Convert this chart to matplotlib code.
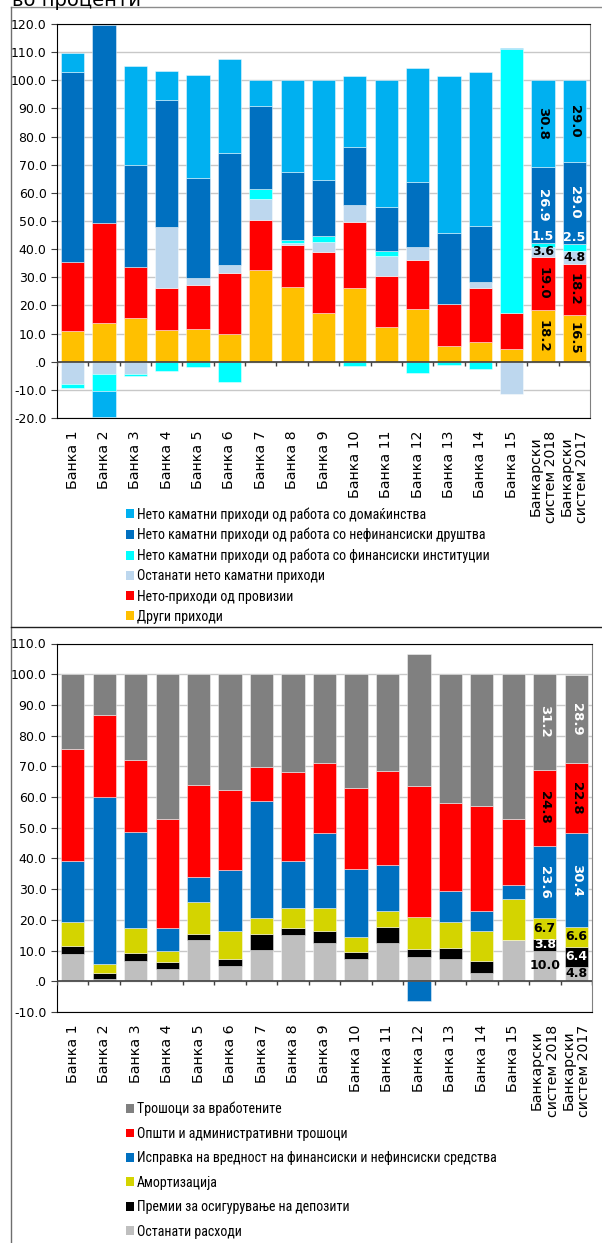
import matplotlib
matplotlib.use("Agg")
import matplotlib.pyplot as plt
from matplotlib import font_manager
from matplotlib.lines import Line2D
from matplotlib.patches import Patch
import numpy as np

W, H = 602, 1243

banks = ["Банка 1", "Банка 2", "Банка 3", "Банка 4", "Банка 5", "Банка 6", "Банка 7",
         "Банка 8", "Банка 9", "Банка 10", "Банка 11", "Банка 12", "Банка 13", "Банка 14",
         "Банка 15", "Банкарски\nсистем 2018", "Банкарски\nсистем 2017"]

# --- top chart: structure of income (stack order bottom -> top) ---
other_income = [11.0, 13.7, 15.4, 11.3, 11.6, 9.9, 32.6, 26.5, 17.2, 26.1, 12.5, 18.9, 5.7, 6.9, 4.5, 18.2, 16.5]
commission = [24.6, 35.5, 18.1, 14.8, 15.7, 21.8, 17.6, 14.8, 21.7, 23.5, 18.0, 17.3, 14.7, 19.4, 12.7, 19.0, 18.2]
other_nii = [-7.9, -4.4, -4.5, 21.9, 2.4, 2.5, 7.7, 0.8, 3.6, 6.2, 7.1, 4.7, 0.0, 2.0, -11.6, 3.6, 4.8]
fin_inst = [-1.6, -5.9, -0.5, -3.3, -1.8, -7.3, 3.6, 1.0, 2.3, -1.4, 1.9, -4.1, -1.2, -2.6, 94.0, 1.5, 2.5]
nonfin = [67.2, 70.6, 36.5, 44.9, 35.6, 40.0, 29.2, 24.3, 19.9, 20.4, 15.4, 23.0, 25.3, 20.1, 0.0, 26.9, 29.0]
households = [6.9, -9.3, 35.0, 10.5, 36.5, 33.3, 9.5, 32.6, 35.3, 25.5, 45.1, 40.5, 55.7, 54.4, 0.3, 30.8, 29.0]

inc_names = ["Други приходи", "Нето-приходи од провизии", "Останати нето каматни приходи",
             "Нето каматни приходи од работа со финансиски институции",
             "Нето каматни приходи од работа со нефинансиски друштва",
             "Нето каматни приходи од работа со домаќинства"]
inc_colors = ["#FFC000", "#FF0000", "#BDD7EE", "#00FFFF", "#0070C0", "#00B0F0"]
# label style for the banking-system columns: (text colour, rotated)
inc_lbl = [("black", True), ("black", True), ("black", False), ("white", False),
           ("white", True), ("black", True)]

# --- bottom chart: structure of expenses (stack order bottom -> top) ---
other_exp = [8.9, 0.9, 6.7, 4.0, 13.3, 4.9, 10.1, 15.2, 12.5, 7.1, 12.5, 7.9, 7.1, 2.7, 13.3, 10.0, 4.8]
premiums = [2.5, 1.8, 2.5, 2.3, 2.1, 2.5, 5.3, 2.0, 4.0, 2.4, 5.2, 2.7, 3.6, 3.8, 0.0, 3.8, 6.4]
amort = [7.9, 3.0, 8.0, 3.7, 10.5, 8.9, 5.3, 6.7, 7.4, 5.0, 5.1, 10.4, 8.5, 10.0, 13.5, 6.7, 6.6]
impair = [19.8, 54.4, 31.5, 7.4, 8.1, 20.1, 37.9, 15.2, 24.4, 22.2, 15.2, -6.3, 10.3, 6.4, 4.6, 23.6, 30.4]
admin = [36.7, 26.5, 23.3, 35.6, 29.8, 25.8, 11.1, 29.0, 22.8, 26.1, 30.6, 42.5, 28.6, 34.1, 21.3, 24.8, 22.8]
staff = [24.2, 13.4, 28.0, 47.0, 36.2, 37.8, 30.3, 31.9, 28.9, 37.2, 31.4, 43.2, 41.9, 43.0, 47.3, 31.2, 28.9]

exp_names = ["Останати расходи", "Премии за осигурување на депозити", "Амортизација",
             "Исправка на вредност на финансиски и нефинсиски средства",
             "Општи и административни трошоци", "Трошоци за вработените"]
exp_colors = ["#BFBFBF", "#000000", "#D4D400", "#0070C0", "#FF0000", "#808080"]
exp_lbl = [("black", False), ("white", False), ("black", False), ("white", True),
           ("black", True), ("white", True)]

# fonts
_avail = {f.name for f in font_manager.fontManager.ttflist}
NARROW = next((f for f in ["Liberation Sans Narrow", "DejaVu Sans Condensed", "Roboto Condensed",
                           "Liberation Sans"] if f in _avail), "DejaVu Sans")
plt.rcParams["font.family"] = ["DejaVu Sans"]


def px(x0, y0, x1, y1):
    """pixel box (top-left origin) -> figure rect"""
    return [x0 / W, 1 - y1 / H, (x1 - x0) / W, (y1 - y0) / H]


def stacked(ax, series, colors, labels_style, ymin, ymax, tick_len):
    n = len(series[0])
    x = np.arange(n)
    pos = np.zeros(n)
    neg = np.zeros(n)
    for vals, col, (tc, rot) in zip(series, colors, labels_style):
        v = np.asarray(vals, dtype=float)
        base = np.where(v >= 0, pos, neg)
        ax.bar(x, v, 0.74, bottom=base, color=col, edgecolor=(1, 1, 1, 0.45),
               linewidth=0.7, zorder=2)
        # data labels only for the two banking-system columns
        for i in (n - 2, n - 1):
            if v[i] == 0:
                continue
            txt = f"{v[i]:.1f}"
            if rot:
                ax.text(x[i], base[i] + v[i] / 2, txt, rotation=270, ha="center", va="center",
                        color=tc, fontsize=9.5, fontweight="bold", zorder=4)
            elif col == "#00FFFF":
                ax.text(x[i], base[i] + v[i], txt, ha="center", va="bottom",
                        color=tc, fontsize=9, fontweight="bold", zorder=4)
            else:
                ax.text(x[i], base[i] + v[i] / 2, txt, ha="center", va="center",
                        color=tc, fontsize=9, fontweight="bold", zorder=4)
        pos += np.clip(v, 0, None)
        neg += np.clip(v, None, 0)

    ax.set_xlim(-0.5, n - 0.5)
    ax.set_ylim(ymin, ymax)
    yt = np.arange(ymin, ymax + 1, 10)
    ax.set_yticks(yt)
    ax.set_yticklabels([".0" if t == 0 else f"{t:.1f}" for t in yt], fontsize=9)
    ax.grid(axis="y", color="#C8C8C8", lw=1, zorder=0)
    ax.set_axisbelow(True)
    ax.axhline(0, color="#404040", lw=1.2, zorder=3)
    ax.vlines(np.arange(n + 1) - 0.5, 0, -tick_len, color="#404040", lw=1, zorder=3)
    ax.set_xticks(x)
    ax.set_xticklabels(banks, rotation=90, fontsize=10.2, linespacing=1.15)
    ax.tick_params(axis="x", length=0, pad=9)
    ax.tick_params(axis="y", length=4, color="#404040")
    for s in ("left", "top", "bottom"):
        ax.spines[s].set_color("black")
    ax.spines["right"].set_color("#808080")


fig = plt.figure(figsize=(W / 100, H / 100), dpi=100)

ax1 = fig.add_axes(px(57, 24, 590, 418))
stacked(ax1, [other_income, commission, other_nii, fin_inst, nonfin, households],
        inc_colors, inc_lbl, -20, 120, 1.4)

ax2 = fig.add_axes(px(57, 643.5, 592, 1012))
stacked(ax2, [other_exp, premiums, amort, impair, admin, staff],
        exp_colors, exp_lbl, -10, 110, 1.3)

# legends (listed top of stack first)
for names, colors, top, spacing in ((inc_names, inc_colors, 507, 0.45),
                                    (exp_names, exp_colors, 1102, 0.75)):
    handles = [Patch(facecolor=c, edgecolor="none", label=nm)
               for nm, c in zip(names[::-1], colors[::-1])]
    fig.legend(handles=handles, loc="upper left", bbox_to_anchor=(126 / W, 1 - top / H),
               frameon=False, prop={"family": NARROW, "size": 10},
               handlelength=0.6, handleheight=0.6, handletextpad=0.2,
               labelspacing=spacing, borderpad=0, borderaxespad=0)

# panel frame lines
fig.add_artist(Line2D([10.7 / W, 1], [1 - 6.7 / H] * 2, color="#8C8C8C", lw=1))
fig.add_artist(Line2D([10.7 / W] * 2, [0, 1 - 6.7 / H], color="#6E6E6E", lw=1))
fig.add_artist(Line2D([10.7 / W, 1], [1 - 626.7 / H] * 2, color="#202020", lw=1))

# heading, cut off at the top edge as in the source image
fig.text(12 / W, 1 - 6 / H, "во проценти", fontsize=14, ha="left", va="baseline")

fig.savefig("out.png", dpi=100)
